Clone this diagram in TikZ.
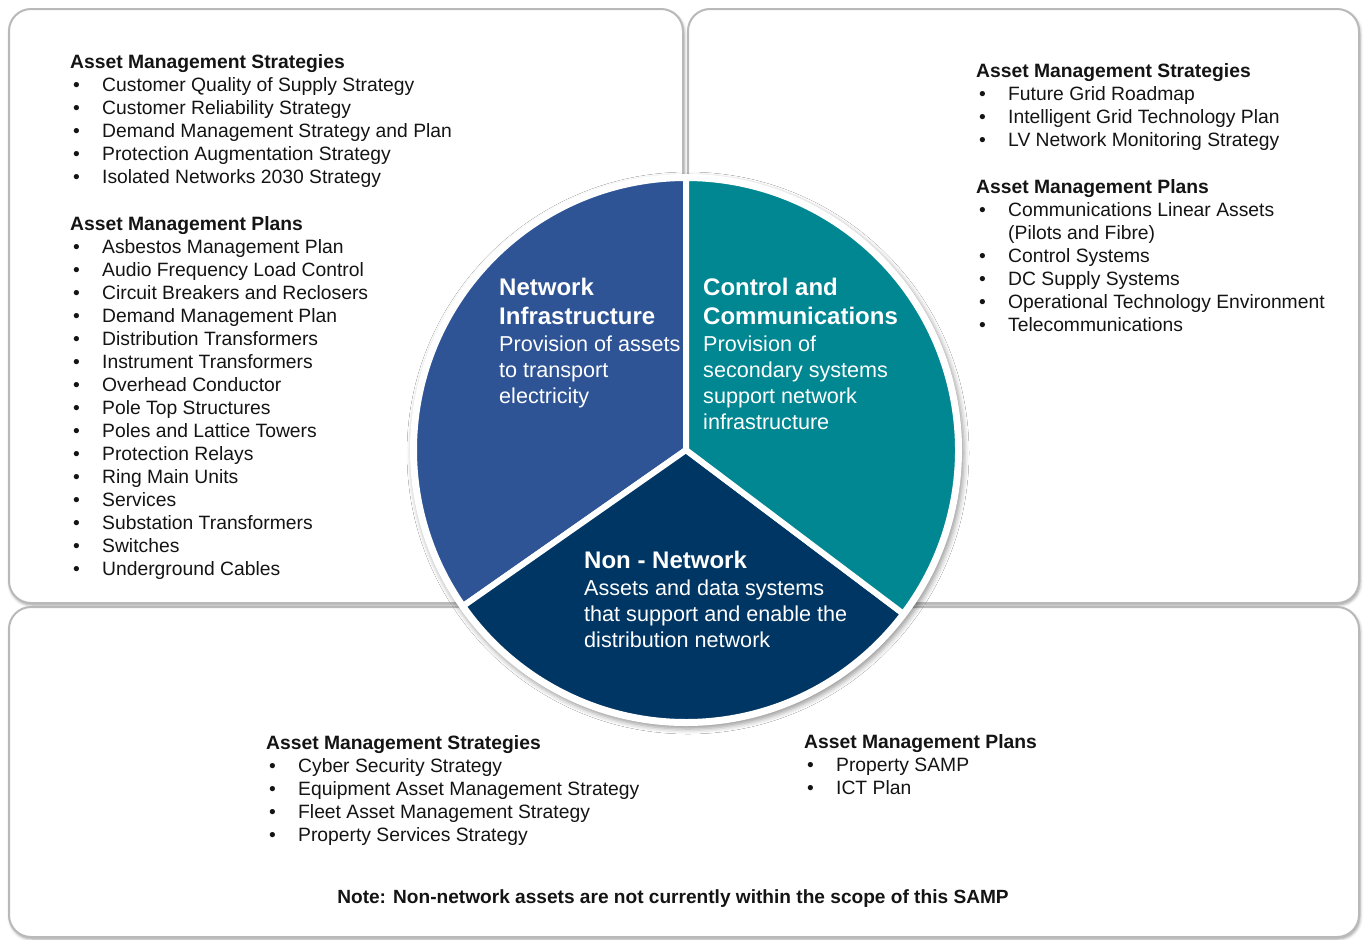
\documentclass[tikz,border=0pt]{standalone}
\usepackage{fontspec}
\setmainfont{Liberation Sans}
\usetikzlibrary{shadows.blur,positioning}
\definecolor{netblue}{RGB}{46,84,150}
\definecolor{ctrlteal}{RGB}{0,135,146}
\definecolor{nonnavy}{RGB}{0,54,100}
\definecolor{listtext}{RGB}{20,20,20}
\newcommand{\itm}{\makebox[32pt][l]{\hspace{3pt}\textbullet}}
\newcommand{\amhead}[1]{\strut\textbf{#1}}

\begin{document}
\begin{tikzpicture}[x=1pt, y=-1pt,
  panel/.style = {draw=gray!55, line width=2pt, fill=white, rounded corners=22pt,
    blur shadow={shadow xshift=1pt, shadow yshift=-2pt, shadow blur radius=3pt}},
  listblock/.style = {anchor=north west, align=left, inner sep=0pt, text=listtext, font=\fontsize{19.3}{23}\selectfont},
  pietitle/.style = {anchor=north west, align=left, inner sep=0pt, text=white, font=\fontsize{24}{29}\selectfont\bfseries},
  piebody/.style = {align=left, inner sep=0pt, text=white, font=\fontsize{21.6}{26}\selectfont},
  sector/.style = {draw=white, line width=6pt, line join=round}]
  \useasboundingbox (0,0) rectangle (1366,940);

  % the three panels
  \draw[panel] (9,9) rectangle (683,603);
  \draw[panel] (688,9) rectangle (1359,603);
  \draw[panel] (9,607) rectangle (1359,937);

  % pie
  \coordinate (pie) at (686,450);
  \fill[white, blur shadow={shadow xshift=2pt, shadow yshift=-3pt, shadow blur radius=5pt}] (pie) circle (276);
  \foreach \a/\b/\c in {-90/-215/netblue, -215/-323/nonnavy, 37/-90/ctrlteal}
    \filldraw[sector, fill=\c] (pie) -- ++(\a:272) arc[start angle=\a, end angle=\b, radius=272] -- cycle;

  \node[pietitle] (nettitle) at (499,275) {\strut Network\\Infrastructure\strut};
  \node[piebody, below right=0pt of nettitle.south west] (netbody) {\strut Provision of assets\\to transport\\electricity};

  \node[pietitle] (ctrltitle) at (703,275) {\strut Control and\\Communications\strut};
  \node[piebody, below right=0pt of ctrltitle.south west] (ctrlbody) {\strut Provision of\\secondary systems\\support network\\infrastructure};

  \node[pietitle] (nontitle) at (584,548) {\strut Non - Network\strut};
  \node[piebody, below right=0pt of nontitle.south west] (nonbody) {\strut Assets and data systems\\that support and enable the\\distribution network};

  % network infrastructure lists
  \node[listblock] (tlstrat) at (70,52) {\amhead{Asset Management Strategies}\\
    \itm Customer Quality of Supply Strategy\\
    \itm Customer Reliability Strategy\\
    \itm Demand Management Strategy and Plan\\
    \itm Protection Augmentation Strategy\\
    \itm Isolated Networks 2030 Strategy};
  \node[listblock] (tlplans) at (70,214) {\amhead{Asset Management Plans}\\
    \itm Asbestos Management Plan\\
    \itm Audio Frequency Load Control\\
    \itm Circuit Breakers and Reclosers\\
    \itm Demand Management Plan\\
    \itm Distribution Transformers\\
    \itm Instrument Transformers\\
    \itm Overhead Conductor\\
    \itm Pole Top Structures\\
    \itm Poles and Lattice Towers\\
    \itm Protection Relays\\
    \itm Ring Main Units\\
    \itm Services\\
    \itm Substation Transformers\\
    \itm Switches\\
    \itm Underground Cables};

  % control and communications lists
  \node[listblock] (trstrat) at (976,61) {\amhead{Asset Management Strategies}\\
    \itm Future Grid Roadmap\\
    \itm Intelligent Grid Technology Plan\\
    \itm LV Network Monitoring Strategy};
  \node[listblock] (trplans) at (976,177) {\amhead{Asset Management Plans}\\
    \itm Communications Linear Assets\\
    \hspace*{32pt}(Pilots and Fibre)\\
    \itm Control Systems\\
    \itm DC Supply Systems\\
    \itm Operational Technology Environment\\
    \itm Telecommunications};

  % non-network lists
  \node[listblock] (bstrat) at (266,733) {\amhead{Asset Management Strategies}\\
    \itm Cyber Security Strategy\\
    \itm Equipment Asset Management Strategy\\
    \itm Fleet Asset Management Strategy\\
    \itm Property Services Strategy};
  \node[listblock] (bplans) at (804,732) {\amhead{Asset Management Plans}\\
    \itm Property SAMP\\
    \itm ICT Plan};

  \node[anchor=base, inner sep=0pt, text=listtext, font=\fontsize{19.1}{23}\selectfont\bfseries] (note) at (673,903)
    {Note: Non-network assets are not currently within the scope of this SAMP};
\end{tikzpicture}
\end{document}
